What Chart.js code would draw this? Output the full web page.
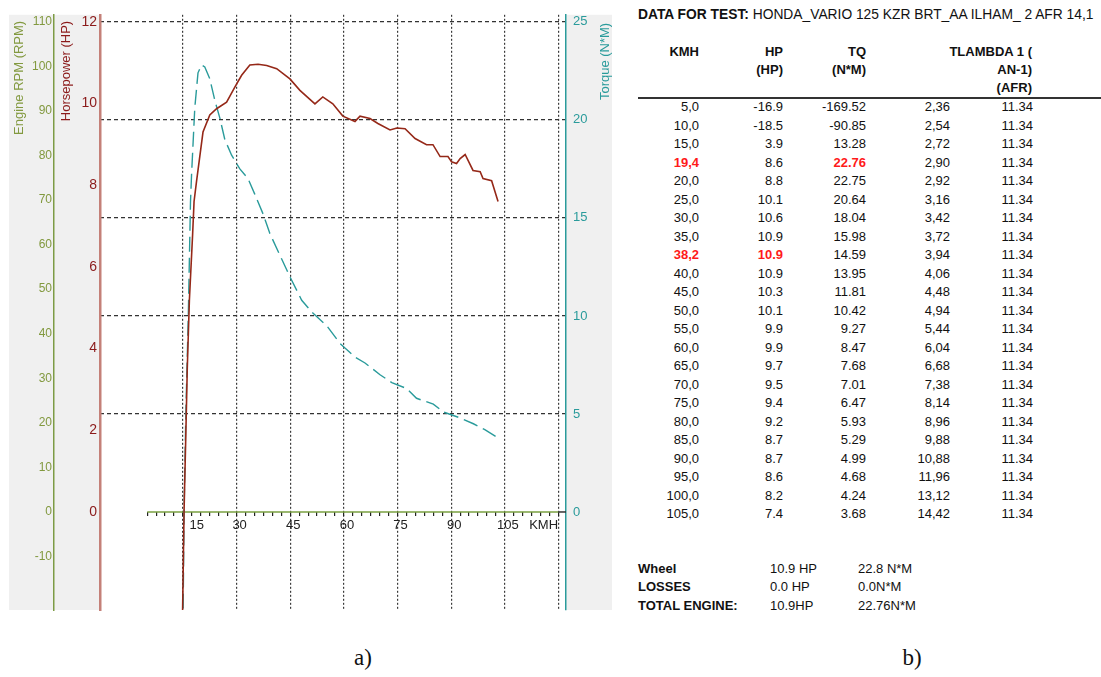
<!DOCTYPE html>
<html lang="en">
<head>
    <meta charset="UTF-8">
    <title>Dyno Test</title>
    <script src="https://cdn.jsdelivr.net/npm/chart.js@4.4.0/dist/chart.umd.min.js"></script>
    <style>
        body {
            margin: 0;
            width: 1101px;
            height: 677px;
            position: relative;
            overflow: hidden;
            background: #fff;
            font-family: "Liberation Sans", Arial, sans-serif;
            color: #111;
        }
        .chart-box {
            position: absolute;
            left: 0;
            top: 0;
            width: 620px;
            height: 625px;
        }
        .caption {
            position: absolute;
            top: 645px;
            font-family: "Liberation Serif", "DejaVu Serif", serif;
            font-size: 23px;
            width: 40px;
            margin-left: -20px;
            text-align: center;
        }
        .cell {
            position: absolute;
            font-size: 13px;
            line-height: 16px;
            white-space: nowrap;
        }
        .title { font-size: 13.8px; }
        .b { font-weight: bold; }
        .red { color: #ff1a1a; font-weight: bold; }
        .rule {
            position: absolute;
            left: 638px;
            width: 463px;
            top: 97px;
            height: 1.5px;
            background: #333;
        }
    </style>
</head>
<body>
    <div class="chart-box"><canvas id="dynoChart"></canvas></div>
    <div class="caption" style="left:363px">a)</div>
    <div class="caption" style="left:912px">b)</div>
    <div id="table"></div>
    <div class="rule"></div>

    <script>
        // curves (km/h, HP) and (km/h, N*M)
        const hpSpeed = [14.8, 15.3, 15.8, 16.2, 16.8, 17.7, 18.1, 18.8, 20.6, 22.5, 24.4, 27.2, 29.5, 31.4, 33.7, 36.0, 38.4, 41.2, 44.9, 47.7, 51.9, 54.1, 56.9, 59.7, 63.1, 64.5, 67.3, 69.5, 72.9, 74.8, 77.1, 79.9, 83.1, 84.9, 86.9, 89.1, 90.1, 91.5, 92.5, 93.9, 96.1, 98.1, 98.9, 101.3, 103.1];
        const hpValues = [-3.0, 0.0, 1.9, 3.5, 5.2, 6.8, 7.6, 8.1, 9.3, 9.72, 9.87, 10.03, 10.4, 10.69, 10.94, 10.96, 10.93, 10.85, 10.6, 10.32, 9.99, 10.16, 9.99, 9.69, 9.56, 9.69, 9.63, 9.51, 9.35, 9.4, 9.38, 9.14, 8.99, 8.99, 8.7, 8.7, 8.57, 8.53, 8.65, 8.75, 8.36, 8.33, 8.16, 8.11, 7.6];

        const tqSpeed = [15.0, 15.3, 15.8, 16.5, 17.1, 17.4, 18.3, 19.2, 20.2, 21.1, 22.5, 23.9, 25.3, 26.7, 28.6, 30.9, 33.2, 35.1, 37.4, 39.3, 42.6, 44.9, 48.2, 51.0, 55.2, 58.9, 63.1, 65.9, 70.1, 73.4, 77.5, 80.3, 85.0, 87.8, 92.5, 96.2, 99.4, 102.9];
        const tqValues = [-6.0, 0.0, 5.0, 10.1, 15.8, 17.2, 20.6, 22.4, 22.8, 22.7, 22.1, 21.0, 20.1, 19.0, 18.2, 17.5, 17.0, 16.2, 15.2, 14.2, 12.9, 12.0, 10.8, 10.2, 9.5, 8.6, 7.9, 7.6, 7.0, 6.6, 6.3, 5.8, 5.5, 5.1, 4.8, 4.5, 4.2, 3.8];

        // axis ticks
        const kmhTicks = [5, 7.5, 10, 12.5, 15, 17.5, 20, 22.5, 25, 27.5, 30, 32.5, 35, 37.5, 40, 42.5, 45, 47.5, 50, 52.5, 55, 57.5, 60, 62.5, 65, 67.5, 70, 72.5, 75, 77.5, 80, 82.5, 85, 87.5, 90, 92.5, 95, 97.5, 100, 102.5, 105, 107.5, 110, 112.5, 115, 117.5, 120];
        const kmhLabels = {15: '      15', 30: '30', 45: '45', 60: '60', 75: '75', 90: '90', 105: '105', 115: 'KMH'};
        const rpmTicks = [-10, 0, 10, 20, 30, 40, 50, 60, 70, 80, 90, 100, 110];
        const hpTicks = [0, 2, 4, 6, 8, 10, 12];
        const tqTicks = [0, 5, 10, 15, 20, 25];

        // table b)
        const rowKmh = ['5,0', '10,0', '15,0', '19,4', '20,0', '25,0', '30,0', '35,0', '38,2', '40,0', '45,0', '50,0', '55,0', '60,0', '65,0', '70,0', '75,0', '80,0', '85,0', '90,0', '95,0', '100,0', '105,0'];
        const rowHp = ['-16.9', '-18.5', '3.9', '8.6', '8.8', '10.1', '10.6', '10.9', '10.9', '10.9', '10.3', '10.1', '9.9', '9.9', '9.7', '9.5', '9.4', '9.2', '8.7', '8.7', '8.6', '8.2', '7.4'];
        const rowTq = ['-169.52', '-90.85', '13.28', '22.76', '22.75', '20.64', '18.04', '15.98', '14.59', '13.95', '11.81', '10.42', '9.27', '8.47', '7.68', '7.01', '6.47', '5.93', '5.29', '4.99', '4.68', '4.24', '3.68'];
        const rowLambda = ['2,36', '2,54', '2,72', '2,90', '2,92', '3,16', '3,42', '3,72', '3,94', '4,06', '4,48', '4,94', '5,44', '6,04', '6,68', '7,38', '8,14', '8,96', '9,88', '10,88', '11,96', '13,12', '14,42'];
        const rowAfr = ['11.34', '11.34', '11.34', '11.34', '11.34', '11.34', '11.34', '11.34', '11.34', '11.34', '11.34', '11.34', '11.34', '11.34', '11.34', '11.34', '11.34', '11.34', '11.34', '11.34', '11.34', '11.34', '11.34'];
        const peakCells = {3: ['kmh', 'tq'], 8: ['kmh', 'hp']};
        const summaryNames = ['Wheel', 'LOSSES', 'TOTAL ENGINE:'];
        const summaryHp = ['10.9 HP', '0.0 HP', '10.9HP'];
        const summaryTq = ['22.8 N*M', '0.0N*M', '22.76N*M'];

        const RPM_COLOR = '#82993f';
        const HP_COLOR = '#8b1a1a';
        const TQ_COLOR = '#2a9b9b';
        const FONT = '"Liberation Sans", Arial, sans-serif';

        // ---- table ----
        const table = document.getElementById('table');
        function cell(text, x, cy, cls, alignRight) {
            const el = document.createElement('div');
            el.className = 'cell ' + (cls || '');
            el.textContent = text;
            el.style.top = (cy - 8) + 'px';
            if (alignRight) el.style.right = (1101 - x) + 'px';
            else el.style.left = x + 'px';
            table.appendChild(el);
            return el;
        }

        const title = cell('', 638, 15, 'title', false);
        title.innerHTML = '<b>DATA FOR TEST:</b> HONDA_VARIO 125 KZR BRT_AA ILHAM_ 2 AFR 14,1';

        cell('KMH', 699, 51.7, 'b', true);
        cell('HP', 783, 51.7, 'b', true);
        cell('(HP)', 783, 70, 'b', true);
        cell('TQ', 866, 51.7, 'b', true);
        cell('(N*M)', 866, 70, 'b', true);
        cell('TLAMBDA 1 (', 1032, 51.7, 'b', true);
        cell('AN-1)', 1032, 70, 'b', true);
        cell('(AFR)', 1032, 88.3, 'b', true);

        rowKmh.forEach((k, i) => {
            const y = 107.3 + i * 18.5;
            const hot = peakCells[i] || [];
            cell(k, 699, y, hot.includes('kmh') ? 'red' : '', true);
            cell(rowHp[i], 783, y, hot.includes('hp') ? 'red' : '', true);
            cell(rowTq[i], 866, y, hot.includes('tq') ? 'red' : '', true);
            cell(rowLambda[i], 950, y, '', true);
            cell(rowAfr[i], 1033, y, '', true);
        });

        summaryNames.forEach((n, i) => {
            const y = 569 + i * 18.3;
            cell(n, 638, y, 'b', false);
            cell(summaryHp[i], 770, y, '', false);
            cell(summaryTq[i], 858, y, '', false);
        });

        // ---- chart a) ----
        function vTitle(ctx, text, x, yTop, color) {
            ctx.save();
            ctx.translate(x, yTop);
            ctx.rotate(-Math.PI / 2);
            ctx.font = '13px ' + FONT;
            ctx.fillStyle = color;
            ctx.textAlign = 'right';
            ctx.textBaseline = 'middle';
            ctx.fillText(text, 0, 0);
            ctx.restore();
        }

        const framePlugin = {
            id: 'frame',
            beforeDraw(chart) {
                const {ctx, chartArea: a, scales} = chart;
                ctx.save();
                ctx.fillStyle = '#f0f0f0';
                ctx.fillRect(scales.rpm.left, a.top, a.left - scales.rpm.left, a.bottom - a.top);
                ctx.fillRect(a.right, a.top, scales.tq.right - a.right, a.bottom - a.top);
                ctx.restore();
            },
            beforeDatasetsDraw(chart) {
                const {ctx, chartArea: a, scales} = chart;
                const y0 = scales.tq.getPixelForValue(0);
                ctx.save();
                ctx.lineWidth = 1.5;
                ctx.strokeStyle = '#7aa040';
                ctx.beginPath();
                ctx.moveTo(scales.x.getPixelForValue(5), y0);
                ctx.lineTo(scales.x.getPixelForValue(120), y0);
                ctx.stroke();
                ctx.strokeStyle = '#333';
                ctx.beginPath();
                ctx.moveTo(scales.x.getPixelForValue(120), y0);
                ctx.lineTo(a.right, y0);
                ctx.stroke();
                ctx.restore();
            },
            afterDraw(chart) {
                const {ctx, chartArea: a, scales} = chart;
                vTitle(ctx, 'Engine RPM (RPM)', scales.rpm.left + 10, a.top + 6, RPM_COLOR);
                vTitle(ctx, 'Horsepower (HP)', scales.hp.left + 12, a.top + 6, HP_COLOR);
                vTitle(ctx, 'Torque (N*M)', scales.tq.right - 7, a.top + 8, TQ_COLOR);
            }
        };

        const fixedTicks = list => scale => { scale.ticks = list.map(v => ({value: v})); };
        const fixedWidth = w => scale => { scale.width = w; };

        new Chart(document.getElementById('dynoChart'), {
            type: 'line',
            data: {
                datasets: [{
                    label: 'HP',
                    data: hpSpeed.map((s, i) => ({x: s, y: hpValues[i]})),
                    yAxisID: 'hp',
                    borderColor: '#952818',
                    borderWidth: 1.6,
                    pointRadius: 0,
                    tension: 0
                }, {
                    label: 'TQ',
                    data: tqSpeed.map((s, i) => ({x: s, y: tqValues[i]})),
                    yAxisID: 'tq',
                    borderColor: TQ_COLOR,
                    borderWidth: 1.4,
                    borderDash: [15, 6],
                    pointRadius: 0,
                    tension: 0
                }]
            },
            options: {
                responsive: true,
                maintainAspectRatio: false,
                animation: false,
                layout: { padding: { left: 9, top: 12, right: 8, bottom: 15 } },
                plugins: { legend: { display: false }, tooltip: { enabled: false } },
                scales: {
                    x: {
                        type: 'linear',
                        min: -8.2,
                        max: 122.1,
                        position: { tq: 0 },
                        afterBuildTicks: fixedTicks(kmhTicks),
                        ticks: {
                            autoSkip: false,
                            maxRotation: 0,
                            color: '#222',
                            font: { size: 13, family: FONT },
                            padding: 2,
                            labelOffset: 3,
                            callback: v => kmhLabels[v] || ''
                        },
                        grid: {
                            color: c => (c.tick && c.tick.value % 15 === 0) ? '#3a3a3a' : 'rgba(0,0,0,0)',
                            lineWidth: 1.2,
                            tickColor: '#222',
                            tickLength: 4,
                            tickWidth: 1.2
                        },
                        border: { display: false, dash: [2, 2] }
                    },
                    hp: {
                        type: 'linear',
                        position: 'left',
                        weight: 0,
                        min: -2.4,
                        max: 12.17,
                        afterBuildTicks: fixedTicks(hpTicks),
                        afterFit: fixedWidth(46),
                        ticks: { color: HP_COLOR, font: { size: 14, family: FONT }, padding: 3 },
                        grid: { drawOnChartArea: false, drawTicks: false },
                        border: { color: '#c48078', width: 2.5 }
                    },
                    rpm: {
                        type: 'linear',
                        position: 'left',
                        weight: 1,
                        min: -22,
                        max: 111.55,
                        afterBuildTicks: fixedTicks(rpmTicks),
                        afterFit: fixedWidth(45),
                        ticks: { color: RPM_COLOR, font: { size: 12, family: FONT }, padding: 2 },
                        grid: { drawOnChartArea: false, drawTicks: false },
                        border: { color: '#7d9b45', width: 1.5 }
                    },
                    tq: {
                        type: 'linear',
                        position: 'right',
                        min: -5,
                        max: 25.36,
                        afterBuildTicks: fixedTicks(tqTicks),
                        afterFit: fixedWidth(46),
                        ticks: { color: TQ_COLOR, font: { size: 13, family: FONT }, padding: 7 },
                        grid: {
                            color: c => (c.tick && c.tick.value === 0) ? 'rgba(0,0,0,0)' : '#333',
                            lineWidth: 1.2,
                            drawTicks: false
                        },
                        border: { color: TQ_COLOR, width: 1.5, dash: [4, 3] }
                    }
                }
            },
            plugins: [framePlugin]
        });
    </script>
</body>
</html>
